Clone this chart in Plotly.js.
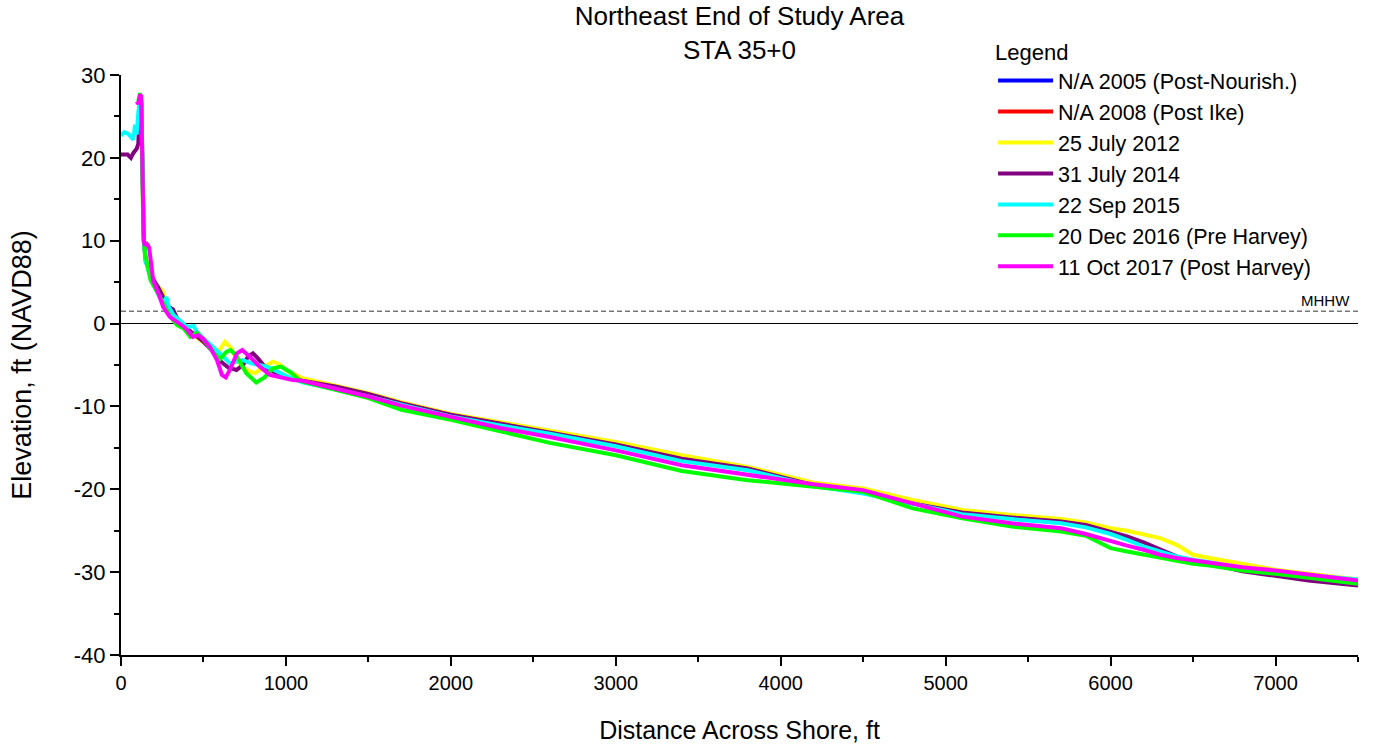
<!DOCTYPE html>
<html>
<head>
<meta charset="utf-8">
<script src="https://cdn.plot.ly/plotly-3.0.1.min.js"></script>
<style>html,body{margin:0;padding:0;background:#fff;}#chart{width:1374px;height:745px;}</style>
</head>
<body>
<div id="chart"></div>
<script>
// ---- Data ----
const seriesNames = ["N/A 2005 (Post-Nourish.)", "N/A 2008 (Post Ike)", "25 July 2012", "31 July 2014", "22 Sep 2015", "20 Dec 2016 (Pre Harvey)", "11 Oct 2017 (Post Harvey)"];
const seriesColors = ["#0000FF", "#FF0000", "#FFFF00", "#800080", "#00FFFF", "#00FF00", "#FF00FF"];

// Offshore stations shared by all surveys (ft)
const offshoreX = [1100,1300,1500,1700,2000,2300,2600,3000,3400,3800,4200,4500,4800,5100,5400,5700,5850,6000,6100,6200,6300,6400,6500,6600,6800,7000,7200,7500];

// N/A surveys (no data at this station)
const naX = [null];
const naY = [null];

// 25 July 2012
const y2012NearX = [105,115,122,128,135,145,160,180,200,225,250,275,300,330,360,400,450,500,550,590,630,665,700,760,812,860,921,960,1000];
const y2012NearY = [26.5,27.5,27.0,20,12,8.5,7.0,5.8,5.0,4.4,4.0,2.6,1.6,0.8,0.0,-0.8,-1.5,-2.2,-3.0,-3.4,-2.2,-2.9,-4.3,-5.6,-6.0,-5.3,-4.6,-4.9,-5.6];
const y2012OffY = [-6.6,-7.5,-8.4,-9.5,-10.9,-11.9,-12.9,-14.3,-15.9,-17.3,-19.2,-19.9,-21.3,-22.5,-23.1,-23.6,-24.0,-24.7,-25.0,-25.5,-25.9,-26.7,-27.9,-28.3,-29.0,-29.7,-30.2,-30.9];

// 31 July 2014
const y2014NearX = [0,40,60,75,95,105,112,118,124,130,138,150,165,180,200,225,260,290,315,330,350,400,450,500,550,600,650,700,740,770,800,830,880,940,1000];
const y2014NearY = [20.4,20.4,20.0,20.6,21.1,21.7,26,27.5,26.5,18,10,7.5,6.6,6.0,5.2,4.4,3.0,2.0,1.7,1.0,0.2,-0.6,-1.4,-2.2,-3.2,-4.5,-5.3,-5.6,-5.0,-4.0,-3.6,-4.2,-5.4,-6.0,-6.5];
const y2014OffY = [-6.9,-7.6,-8.5,-9.6,-11.0,-12.1,-13.1,-14.6,-16.3,-17.5,-19.5,-20.4,-21.7,-22.8,-23.4,-23.9,-24.3,-25.1,-25.7,-26.4,-27.3,-28.1,-28.7,-29.0,-29.9,-30.5,-31.0,-31.6];

// 22 Sep 2015
const y2015NearX = [0,20,45,65,75,85,95,105,112,118,124,130,138,150,165,180,210,240,262,275,290,320,360,400,440,460,500,557,610,660,700,739,790,884,950,1000];
const y2015NearY = [22.7,23.1,22.9,22.4,22.2,24.0,22.8,25.5,27.4,27.5,26,18,10,7.5,6.4,5.5,4.2,3.0,2.6,3.2,2.0,1.0,0.3,-0.4,-0.3,-1.0,-1.8,-2.8,-3.8,-4.8,-4.6,-4.4,-4.8,-5.2,-5.8,-6.3];
const y2015OffY = [-7.1,-7.9,-8.8,-9.8,-11.2,-12.3,-13.3,-14.8,-16.6,-17.7,-19.6,-20.5,-21.8,-23.0,-23.6,-24.1,-24.6,-25.4,-26.1,-26.9,-27.5,-28.1,-28.5,-28.8,-29.6,-30.0,-30.4,-30.9];

// 20 Dec 2016
const y2016NearX = [105,115,122,128,135,145,160,180,220,260,300,340,380,420,460,500,560,600,640,665,700,760,820,870,920,970,1030,1080];
const y2016NearY = [26.8,27.8,27.2,20,12,8.5,7.0,5.2,3.8,2.2,0.8,-0.2,-0.6,-1.6,-1.1,-1.9,-3.5,-4.3,-3.4,-3.2,-3.9,-6.0,-7.1,-6.5,-5.4,-5.2,-5.9,-6.8];
const y2016OffY = [-7.0,-8.0,-9.0,-10.4,-11.6,-13.0,-14.4,-15.9,-17.8,-18.9,-19.7,-20.3,-22.3,-23.5,-24.5,-25.1,-25.6,-27.1,-27.5,-27.9,-28.3,-28.7,-29.0,-29.2,-29.8,-30.2,-30.7,-31.4];

// 11 Oct 2017
const y2017NearX = [95,105,115,122,127,132,138,145,152,160,170,178,186,195,226,256,296,338,388,436,467,497,539,582,612,635,660,703,735,781,842,903,981,1040];
const y2017NearY = [26.8,26.5,27.5,27.6,22,14,10,9.4,9.8,9.5,9.2,8.0,6.5,5.2,3.7,2.0,0.8,0.2,-0.5,-1.6,-1.4,-1.8,-2.8,-4.4,-6.2,-6.5,-5.6,-3.6,-3.2,-4.0,-5.2,-6.2,-6.6,-6.8];
const y2017OffY = [-6.9,-7.8,-8.8,-9.9,-11.3,-12.6,-13.7,-15.3,-17.1,-18.3,-19.4,-20.1,-21.7,-23.3,-24.1,-24.7,-25.4,-26.3,-26.8,-27.3,-27.9,-28.3,-28.6,-28.8,-29.4,-29.8,-30.3,-31.0];

const mhhwLevel = 1.5;
const xTickVals = [0,1000,2000,3000,4000,5000,6000,7000];
const xTickText = ["0","1000","2000","3000","4000","5000","6000","7000"];
const yTickVals = [-40,-30,-20,-10,0,10,20,30];
const yTickText = ["-40","-30","-20","-10","0","10","20","30"];

// ---- Build traces ----
const seriesX = [naX, naX, y2012NearX.concat(offshoreX), y2014NearX.concat(offshoreX), y2015NearX.concat(offshoreX), y2016NearX.concat(offshoreX), y2017NearX.concat(offshoreX)];
const seriesY = [naY, naY, y2012NearY.concat(y2012OffY), y2014NearY.concat(y2014OffY), y2015NearY.concat(y2015OffY), y2016NearY.concat(y2016OffY), y2017NearY.concat(y2017OffY)];

const FONT = "Liberation Sans, Arial, Helvetica, sans-serif";
const traces = seriesNames.map((n, i) => ({
  type: "scatter", mode: "lines", name: n,
  x: seriesX[i], y: seriesY[i],
  line: {color: seriesColors[i], width: 4},
  showlegend: true, hoverinfo: "x+y+name"
}));

const layout = {
  width: 1374, height: 745,
  paper_bgcolor: "#fff", plot_bgcolor: "#fff",
  margin: {l: 121, r: 16, t: 75, b: 90, pad: 0},
  font: {family: FONT, color: "#000", size: 20},
  title: {text: "Northeast End of Study Area<br>STA 35+0", x: 0.5, xref: "paper", y: 0.966, yref: "container", yanchor: "top",
          font: {family: FONT, size: 26, color: "#000"}},
  showlegend: true,
  legend: {x: 0.705, y: 1.075, xanchor: "left", yanchor: "top", bgcolor: "rgba(0,0,0,0)", borderwidth: 0,
           title: {text: "Legend", side: "top", font: {family: FONT, size: 22, color: "#000"}},
           font: {family: FONT, size: 21.5, color: "#000"}, itemwidth: 55, tracegroupgap: 0, traceorder: "normal"},
  xaxis: {range: [0, 7500], tickvals: xTickVals, ticktext: xTickText, ticks: "outside", ticklen: 9, tickwidth: 2, tickcolor: "#000",
          showline: true, linewidth: 2, linecolor: "#000", showgrid: false, zeroline: false, mirror: false,
          tickfont: {family: FONT, size: 20, color: "#000"},
          minor: {dtick: 500, tick0: 0, ticks: "outside", ticklen: 5, tickwidth: 1.5, tickcolor: "#000", showgrid: false},
          title: {text: "Distance Across Shore, ft", font: {family: FONT, size: 25, color: "#000"}, standoff: 28}},
  yaxis: {range: [-40, 30], tickvals: yTickVals, ticktext: yTickText, ticks: "outside", ticklen: 9, tickwidth: 2, tickcolor: "#000",
          showline: true, linewidth: 2, linecolor: "#000", showgrid: false, zeroline: true, zerolinecolor: "#000", zerolinewidth: 1,
          tickfont: {family: FONT, size: 22, color: "#000"},
          minor: {dtick: 5, tick0: 0, ticks: "outside", ticklen: 5, tickwidth: 1.5, tickcolor: "#000", showgrid: false},
          title: {text: "Elevation, ft (NAVD88)", font: {family: FONT, size: 27, color: "#000"}, standoff: 34}},
  shapes: [{type: "line", xref: "paper", x0: 0, x1: 1, yref: "y", y0: mhhwLevel, y1: mhhwLevel, layer: "below",
            line: {color: "#777", width: 1.5, dash: "5px,3px"}}],
  annotations: [{xref: "paper", x: 0.995, xanchor: "right", yref: "y", y: mhhwLevel, yanchor: "bottom", yshift: 0,
                 text: "MHHW", showarrow: false, font: {family: FONT, size: 15, color: "#000"}}]
};

Plotly.newPlot("chart", traces, layout, {displayModeBar: false, responsive: false});
</script>
</body>
</html>
